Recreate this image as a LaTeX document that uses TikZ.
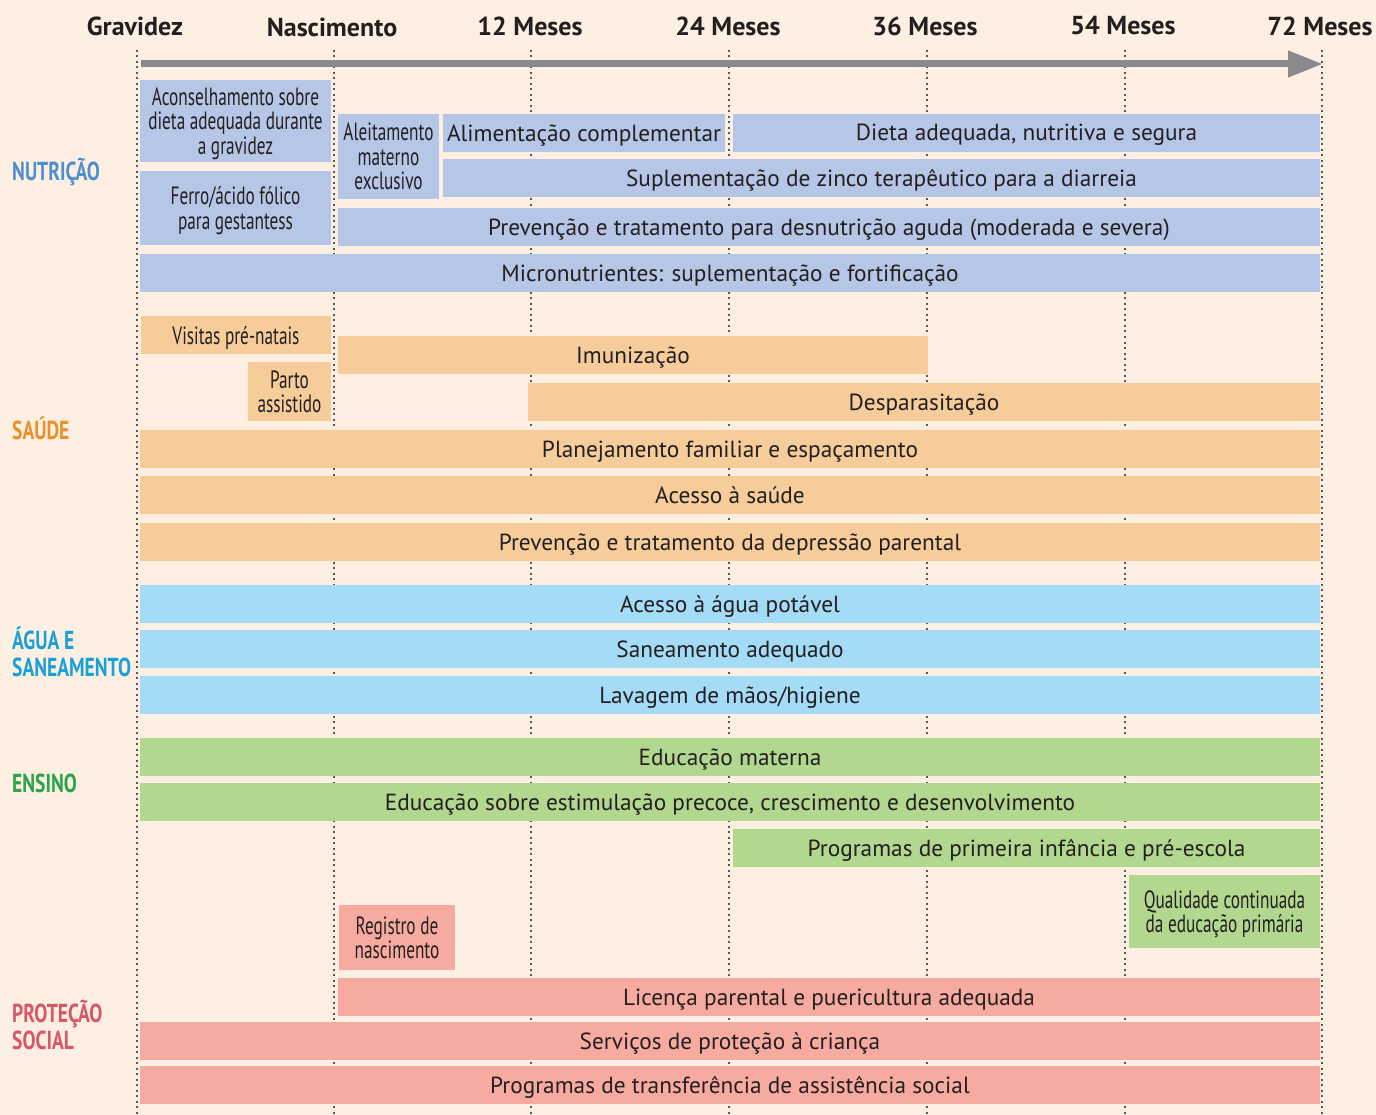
\documentclass[tikz,border=0pt]{standalone}
\usepackage{fontspec}
\setmainfont{PT Sans}
\newfontfamily\cond[FakeStretch=0.69]{PT Sans}
\newfontfamily\condc[FakeStretch=0.75]{PT Sans}
\usetikzlibrary{arrows.meta}
\definecolor{bg}{HTML}{FDF0E2}
\definecolor{nut}{HTML}{B6C6E6}
\definecolor{sau}{HTML}{F5CC9A}
\definecolor{agu}{HTML}{A4DBF6}
\definecolor{ens}{HTML}{B2D78F}
\definecolor{pro}{HTML}{F7ABA0}
\definecolor{ink}{HTML}{231F20}
\definecolor{arr}{HTML}{8A8A8C}
\definecolor{cnut}{HTML}{4F8FCE}
\definecolor{csau}{HTML}{E8912A}
\definecolor{cagu}{HTML}{1A9FD8}
\definecolor{cens}{HTML}{2AA44A}
\definecolor{cpro}{HTML}{D9566A}
\newcommand\bx[7]{\node[#6, anchor=north west, minimum width={(#4-#2)*1pt}, minimum height={(#5-#3)*1pt}] (#1) at (#2,#3) {#7};}
\begin{document}
\begin{tikzpicture}[x=1pt,y=-1pt,
  bar/.style={inner sep=0pt, outer sep=0pt, text=ink, font=\fontsize{23.3}{26}\selectfont, align=center, text depth=0.5pt},
  sbar/.style={inner sep=0pt, outer sep=0pt, text=ink, font=\cond\fontsize{25}{24.5}\selectfont, align=center, text depth=0pt},
  hdr/.style={text=ink, font=\bfseries\fontsize{26}{28}\selectfont, inner sep=0pt},
  cat/.style={anchor=west, inner sep=0pt, font=\condc\bfseries\fontsize{26}{27}\selectfont, align=left},
  tick/.style={draw=ink!75, line width=1.3pt, dash pattern=on 2pt off 3.5pt}]
\useasboundingbox[fill=bg] (0,0) rectangle (1376,1115);
% ticks
\foreach \n/\x in {0/137,1/334,2/531,3/729,4/927,5/1125,6/1322}{
  \coordinate (t\n) at (\x,50);
  \coordinate (b\n) at (\x,1115);
  \draw[tick] (t\n) -- (b\n);
}
% header
\node[hdr] (h0) at (135,26) {Gravidez};
\node[hdr] (h1) at (332,27) {Nascimento};
\node[hdr] (h2) at (530,26) {12 Meses};
\node[hdr] (h3) at (728,26) {24 Meses};
\node[hdr] (h4) at (925,26) {36 Meses};
\node[hdr] (h5) at (1123,26) {54 Meses};
\node[hdr] (h6) at (1320,26) {72 Meses};
% arrow
\coordinate (as) at (141,64);
\coordinate (ae) at (1323,64);
\draw[arr, line width=7pt, -{Triangle[length=35pt,width=25pt]}] (as) -- (ae);
% categories
\node[cat, text=cnut] (cn) at (12,172) {NUTRIÇÃO};
\node[cat, text=csau] (cs) at (12,428) {SAÚDE};
\node[cat, text=cagu] (ca) at (12,652) {ÁGUA E\\SANEAMENTO};
\node[cat, text=cens] (ce) at (12,783) {ENSINO};
\node[cat, text=cpro] (cp) at (12,1025) {PROTEÇÃO\\SOCIAL};
% nutrition
\bx{n1}{140}{80}{331}{162}{sbar,fill=nut}{Aconselhamento sobre\\dieta adequada durante\\a gravidez}
\bx{n2}{140}{171}{331}{245}{sbar,fill=nut}{Ferro/ácido fólico\\para gestantess}
\bx{n3}{338}{114}{439}{199}{sbar,fill=nut}{Aleitamento\\materno\\exclusivo}
\bx{n4}{443}{114}{725}{152}{bar,fill=nut}{Alimentação complementar}
\bx{n5}{733}{114}{1320}{152}{bar,fill=nut}{Dieta adequada, nutritiva e segura}
\bx{n6}{443}{159}{1320}{197}{bar,fill=nut}{Suplementação de zinco terapêutico para a diarreia}
\bx{n7}{338}{208}{1320}{246}{bar,fill=nut}{Prevenção e tratamento para desnutrição aguda (moderada e severa)}
\bx{n8}{140}{254}{1320}{292}{bar,fill=nut}{Micronutrientes: suplementação e fortificação}
% saude
\bx{s1}{141}{316}{331}{354}{sbar,fill=sau}{Visitas pré-natais}
\bx{s2}{338}{336}{928}{374}{bar,fill=sau}{Imunização}
\bx{s3}{248}{362}{331}{421}{sbar,fill=sau}{Parto\\assistido}
\bx{s4}{528}{383}{1320}{421}{bar,fill=sau}{Desparasitação}
\bx{s5}{140}{430}{1320}{468}{bar,fill=sau}{Planejamento familiar e espaçamento}
\bx{s6}{140}{476}{1320}{514}{bar,fill=sau}{Acesso à saúde}
\bx{s7}{140}{523}{1320}{561}{bar,fill=sau}{Prevenção e tratamento da depressão parental}
% agua
\bx{a1}{140}{585}{1320}{623}{bar,fill=agu}{Acesso à água potável}
\bx{a2}{140}{630}{1320}{668}{bar,fill=agu}{Saneamento adequado}
\bx{a3}{140}{676}{1320}{714}{bar,fill=agu}{Lavagem de mãos/higiene}
% ensino
\bx{e1}{140}{738}{1320}{776}{bar,fill=ens}{Educação materna}
\bx{e2}{140}{783}{1320}{821}{bar,fill=ens}{Educação sobre estimulação precoce, crescimento e desenvolvimento}
\bx{e3}{733}{829}{1320}{867}{bar,fill=ens}{Programas de primeira infância e pré-escola}
\bx{e4}{1129}{875}{1320}{948}{sbar,fill=ens}{Qualidade continuada\\da educação primária}
% protecao
\bx{p1}{339}{905}{455}{970}{sbar,fill=pro}{Registro de\\nascimento}
\bx{p2}{338}{978}{1320}{1016}{bar,fill=pro}{Licença parental e puericultura adequada}
\bx{p3}{140}{1022}{1320}{1060}{bar,fill=pro}{Serviços de proteção à criança}
\bx{p4}{140}{1066}{1320}{1104}{bar,fill=pro}{Programas de transferência de assistência social}
\end{tikzpicture}
\end{document}
